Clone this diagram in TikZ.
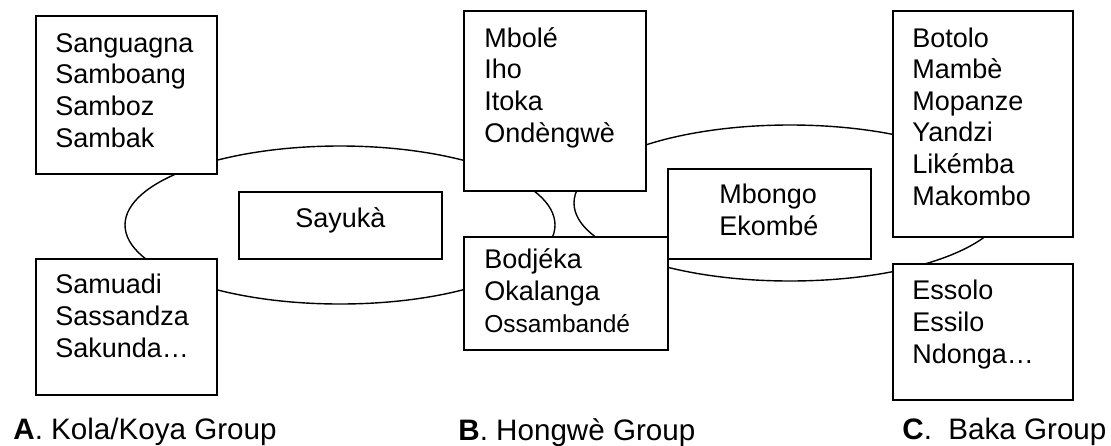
\documentclass[tikz,border=0pt]{standalone}
\usepackage{fontspec}
\setmainfont{Liberation Sans}
\usetikzlibrary{shapes.geometric}

\tikzset{
  ring/.style 2 args={ellipse,draw=black,line width=0.7pt,
                      minimum width=#1*0.5pt,minimum height=#2*0.5pt,inner sep=0pt},
  box/.style 2 args={rectangle,draw=black,fill=white,line width=0.9pt,anchor=north west,
                     minimum width=#1*0.5pt,minimum height=#2*0.5pt,inner sep=0pt},
  names/.style={anchor=base west,inner sep=0pt,align=left,
                font=\fontsize{13.5}{15.8}\selectfont},
  grp/.style={anchor=base west,inner sep=0pt,font=\fontsize{14.8}{17}\selectfont}
}

\begin{document}
\begin{tikzpicture}[x=0.5pt,y=-0.5pt]
 \useasboundingbox (0,0) rectangle (1111,445);

 % the two rings, behind the boxes
 \draw (340,225) node[ring={430}{158}] (ringKH) {};
 \draw (790,203) node[ring={432}{156}] (ringHB) {};

 % Kola/Koya (text placed by its last baseline)
 \draw (35,15)  node[box={181}{158}] (KA1) {};
 \node[names] (KA1t) at ([shift={(20,132)}]KA1.north west)
              {Sanguagna\\Samboang\\Samboz\\Sambak};

 \draw (35,258) node[box={181}{136}] (KA2) {};
 \node[names] (KA2t) at ([shift={(20,99)}]KA2.north west)
              {Samuadi\\Sassandza\\Sakunda…};

 \draw (238,191) node[box={203}{67}] (SAY) {};
 \node[names,anchor=base] (SAYt) at ([yshift=-36*0.5pt]SAY.north) {Sayukà};

 % Hongwè
 \draw (463,10)  node[box={182}{180}] (HB1) {};
 \node[names] (HB1t) at ([shift={(21,132)}]HB1.north west)
              {Mbolé\\Iho\\Itoka\\Ondèngwè};

 \draw (463,236) node[box={204}{113}] (HB2) {};
 \node[names] (HB2t) at ([shift={(21,96)}]HB2.north west)
              {Bodjéka\\Okalanga\\{\fontsize{12.25}{14}\selectfont Ossambandé}};

 \draw (667,168) node[box={203}{90}] (MBO) {};
 \node[names] (MBOt) at ([shift={(52,67)}]MBO.north west)
              {Mbongo\\Ekombé};

 % Baka
 \draw (892,10)  node[box={180}{226}] (BK1) {};
 \node[names] (BK1t) at ([shift={(20,195)}]BK1.north west)
              {Botolo\\Mambè\\Mopanze\\Yandzi\\Likémba\\Makombo};

 \draw (892,263) node[box={180}{136}] (BK2) {};
 \node[names] (BK2t) at ([shift={(20,100)}]BK2.north west)
              {Essolo\\Essilo\\Ndonga…};

 % group names
 \node[grp] (grpA) at (13,439)  {\textbf{A}. Kola/Koya Group};
 \node[grp] (grpB) at (458,440) {\textbf{B}. Hongwè Group};
 \node[grp] (grpC) at (902,439) {\textbf{C}.\ \ Baka Group};

\end{tikzpicture}
\end{document}
